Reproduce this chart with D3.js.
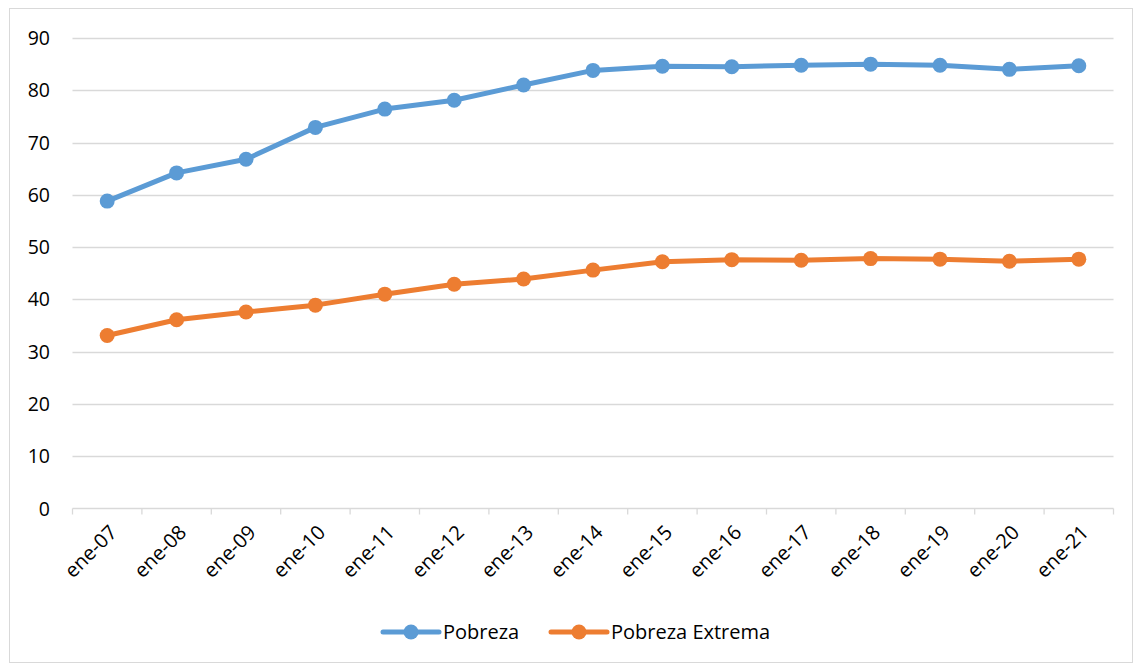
<!DOCTYPE html>
<html>
<head>
<meta charset="utf-8">
<script src="https://cdn.jsdelivr.net/npm/d3@7"></script>
<style>
  html, body { margin: 0; padding: 0; background: #fff; }
  svg { display: block; }
  text { font-family: "Open Sans", Lato, sans-serif; fill: #000; }
</style>
</head>
<body>
<svg id="chart" width="1135" height="665"></svg>
<script>
// Series data
const categories = ["ene-07","ene-08","ene-09","ene-10","ene-11","ene-12","ene-13","ene-14","ene-15","ene-16","ene-17","ene-18","ene-19","ene-20","ene-21"];
const pobreza = [58.8, 64.2, 66.8, 72.9, 76.4, 78.1, 81.0, 83.8, 84.6, 84.5, 84.8, 85.0, 84.8, 84.0, 84.7];
const pobrezaExtrema = [33.1, 36.1, 37.6, 38.9, 41.0, 42.9, 43.9, 45.6, 47.2, 47.6, 47.5, 47.8, 47.7, 47.3, 47.7];
const yTicks = [0, 10, 20, 30, 40, 50, 60, 70, 80, 90];
const seriesNames = ["Pobreza", "Pobreza Extrema"];
const seriesColors = ["#5b9bd5", "#ed7d31"];

const svg = d3.select("#chart");
const W = 1135, H = 665;
const plot = { left: 72.5, right: 1113.5, top: 38, bottom: 508.5 };

// chart frame
svg.append("rect")
  .attr("x", 9.5).attr("y", 8.5)
  .attr("width", W - 12).attr("height", H - 11)
  .attr("fill", "#fff").attr("stroke", "#d9d9d9").attr("stroke-width", 1);

const x = d3.scaleBand().domain(categories).range([plot.left, plot.right]).padding(0);
const y = d3.scaleLinear().domain([0, 90]).range([plot.bottom, plot.top]);
const cx = c => x(c) + x.bandwidth() / 2;

// horizontal gridlines
svg.append("g")
  .selectAll("line")
  .data(yTicks.filter(t => t > 0))
  .join("line")
  .attr("x1", plot.left).attr("x2", plot.right)
  .attr("y1", d => Math.round(y(d)) + 0.5).attr("y2", d => Math.round(y(d)) + 0.5)
  .attr("stroke", "#d9d9d9").attr("stroke-width", 1.3);

// y-axis labels
svg.append("g")
  .selectAll("text")
  .data(yTicks)
  .join("text")
  .attr("x", 50).attr("y", d => y(d))
  .attr("dy", "0.36em")
  .attr("text-anchor", "end")
  .attr("font-size", 19.5)
  .text(d => d);

// x axis with ticks at category boundaries
const xAxis = svg.append("g");
xAxis.append("line")
  .attr("x1", plot.left).attr("x2", plot.right)
  .attr("y1", plot.bottom).attr("y2", plot.bottom)
  .attr("stroke", "#d9d9d9").attr("stroke-width", 1.3);
const bounds = categories.map(c => x(c)).concat([plot.right]);
xAxis.selectAll("line.tick")
  .data(bounds)
  .join("line")
  .attr("class", "tick")
  .attr("x1", d => d).attr("x2", d => d)
  .attr("y1", plot.bottom).attr("y2", plot.bottom + 6)
  .attr("stroke", "#d9d9d9").attr("stroke-width", 1.3);
xAxis.selectAll("text")
  .data(categories)
  .join("text")
  .attr("transform", d => `translate(${cx(d) + 6},${plot.bottom + 20}) rotate(-45)`)
  .attr("text-anchor", "end")
  .attr("dy", "0.36em")
  .attr("font-size", 20)
  .text(d => d);

// lines and markers
const allSeries = [pobreza, pobrezaExtrema];
const line = d3.line().x((d, i) => cx(categories[i])).y(d => y(d));
allSeries.forEach((vals, si) => {
  const g = svg.append("g");
  g.append("path")
    .datum(vals)
    .attr("d", line)
    .attr("fill", "none")
    .attr("stroke", seriesColors[si])
    .attr("stroke-width", 5)
    .attr("stroke-linejoin", "round")
    .attr("stroke-linecap", "round");
  g.selectAll("circle")
    .data(vals)
    .join("circle")
    .attr("cx", (d, i) => cx(categories[i]))
    .attr("cy", d => y(d))
    .attr("r", 7.5)
    .attr("fill", seriesColors[si]);
});

// legend
const legendX = [383, 551];
const legend = svg.append("g");
seriesNames.forEach((name, i) => {
  const lx = legendX[i], ly = 632;
  legend.append("line")
    .attr("x1", lx).attr("x2", lx + 56)
    .attr("y1", ly).attr("y2", ly)
    .attr("stroke", seriesColors[i]).attr("stroke-width", 5)
    .attr("stroke-linecap", "round");
  legend.append("circle")
    .attr("cx", lx + 28).attr("cy", ly).attr("r", 7.5)
    .attr("fill", seriesColors[i]);
  legend.append("text")
    .attr("x", lx + 60).attr("y", ly)
    .attr("dy", "0.36em")
    .attr("font-size", 20)
    .text(name);
});
</script>
</body>
</html>
